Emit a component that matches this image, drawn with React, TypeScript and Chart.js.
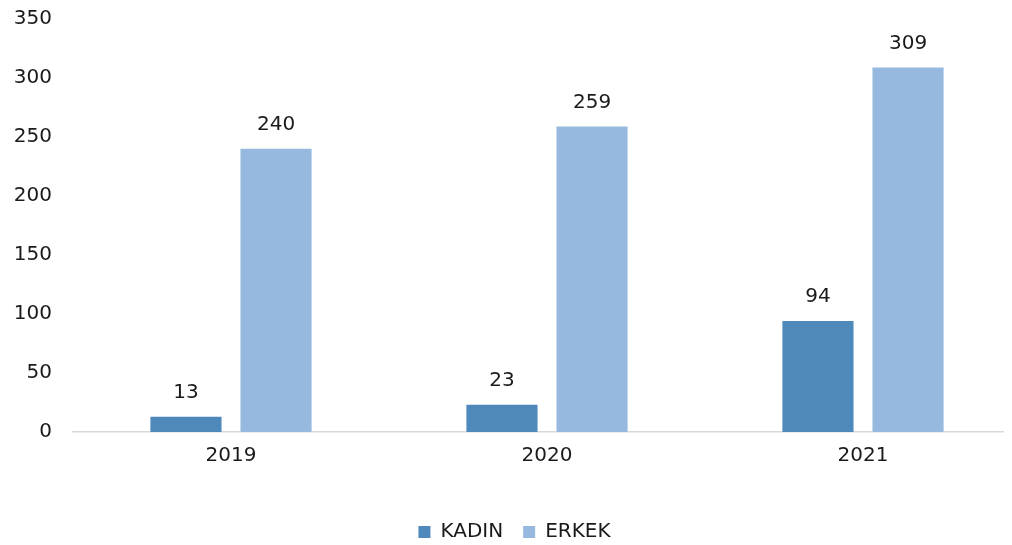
import React, { useEffect, useRef } from "react";
import { Chart, registerables } from "chart.js";

Chart.register(...registerables);

const categories = ["2019", "2020", "2021"];
const kadinValues = [13, 23, 94];
const erkekValues = [240, 259, 309];
const seriesNames = ["KADIN", "ERKEK"];

const FONT = "'DejaVu Sans', sans-serif";
const FS = 20;

const valueLabels = {
  id: "valueLabels",
  afterDatasetsDraw(chart: any) {
    const ctx = chart.ctx;
    ctx.save();
    ctx.font = `${FS}px ${FONT}`;
    ctx.fillStyle = "#1a1a1a";
    ctx.textAlign = "center";
    ctx.textBaseline = "middle";
    chart.data.datasets.forEach((ds: any, i: number) => {
      const meta = chart.getDatasetMeta(i);
      meta.data.forEach((el: any, j: number) => {
        ctx.fillText(String(ds.data[j]), el.x, el.y - 24);
      });
    });
    ctx.restore();
  },
};

export default function App() {
  const ref = useRef<HTMLCanvasElement>(null);
  useEffect(() => {
    document.documentElement.style.overflow = "hidden";
    const chart = new Chart(ref.current!, {
      type: "bar",
      data: {
        labels: categories,
        datasets: [
          {
            label: seriesNames[0],
            data: kadinValues,
            backgroundColor: "#4f89bc",
            categoryPercentage: 0.57,
            barPercentage: 0.79,
          },
          {
            label: seriesNames[1],
            data: erkekValues,
            backgroundColor: "#98b9df",
            categoryPercentage: 0.57,
            barPercentage: 0.79,
          },
        ],
      },
      options: {
        animation: false,
        responsive: true,
        maintainAspectRatio: false,
        layout: { padding: 0 },
        plugins: {
          legend: {
            position: "bottom",
            labels: {
              boxWidth: 12,
              boxHeight: 12,
              padding: 20,
              color: "#1a1a1a",
              font: { family: FONT, size: FS },
            },
          },
          tooltip: { enabled: false },
        },
        scales: {
          x: {
            grid: { display: false },
            border: { display: true, color: "#d9d9d9", width: 1.5 },
            ticks: { color: "#1a1a1a", font: { family: FONT, size: FS }, padding: 4 },
            afterFit: (s: any) => {
              s.height = 70;
            },
          },
          y: {
            min: 0,
            max: 350,
            ticks: { stepSize: 50, color: "#1a1a1a", font: { family: FONT, size: FS }, padding: 21 },
            grid: { display: false, drawTicks: false },
            border: { display: false },
            afterFit: (s: any) => {
              s.width = 65;
              s.paddingTop = 11;
              s.paddingBottom = 0;
            },
          },
        },
      },
      plugins: [valueLabels],
    });
    return () => chart.destroy();
  }, []);
  return (
    <div style={{ position: "relative", width: 1013, height: 544 }}>
      <canvas ref={ref} />
    </div>
  );
}
